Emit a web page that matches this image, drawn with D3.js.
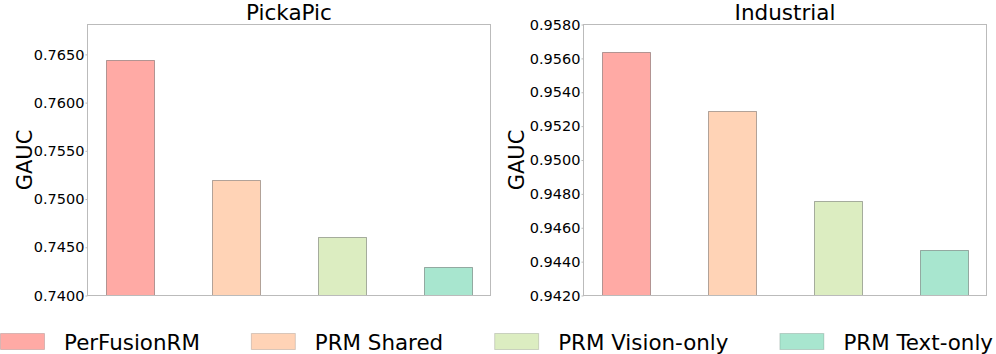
<!DOCTYPE html>
<html>
<head>
<meta charset="utf-8">
<script src="https://cdn.jsdelivr.net/npm/d3@7"></script>
<style>
  html, body { margin: 0; padding: 0; background: #fff; }
  svg { display: block; font-family: "DejaVu Sans", sans-serif; }
</style>
</head>
<body>
<svg id="chart" width="996" height="354"></svg>
<script>
const categories = ["PerFusionRM", "PRM Shared", "PRM Vision-only", "PRM Text-only"];
const colors = ["#ffaaa5", "#ffd3b6", "#dcedc1", "#a8e6cf"];
const pickapicValues = [0.7644, 0.7520, 0.7461, 0.7430];
const industrialValues = [0.9564, 0.9529, 0.9476, 0.9447];
const pickapicTicks = [0.7400, 0.7450, 0.7500, 0.7550, 0.7600, 0.7650];
const industrialTicks = [0.9420, 0.9440, 0.9460, 0.9480, 0.9500, 0.9520, 0.9540, 0.9560, 0.9580];
const panels = [
  { title: "PickaPic", values: pickapicValues, ticks: pickapicTicks, domain: [0.7400, 0.7681], left: 87.5, right: 490.5, labelOff: 56 },
  { title: "Industrial", values: industrialValues, ticks: industrialTicks, domain: [0.9420, 0.9580], left: 583.5, right: 986.5, labelOff: 60 }
];

const svg = d3.select("#chart");
const plotTop = 24.5, plotBottom = 295.5;

panels.forEach(p => {
  const g = svg.append("g");
  const x = d3.scaleLinear().domain([-0.4, 3.4]).range([p.left, p.right]);
  const y = d3.scaleLinear().domain(p.domain).range([plotBottom, plotTop]);
  const bw = 0.45;

  g.selectAll("rect.bar").data(p.values).enter().append("rect")
    .attr("class", "bar")
    .attr("x", (d, i) => Math.round(x(i - bw / 2)) + 0.5)
    .attr("width", (d, i) => Math.round(x(i + bw / 2)) - Math.round(x(i - bw / 2)))
    .attr("y", d => Math.round(y(d)) + 0.5)
    .attr("height", d => plotBottom - (Math.round(y(d)) + 0.5))
    .attr("fill", (d, i) => colors[i])
    .attr("stroke", "rgba(0,0,0,0.3)")
    .attr("stroke-width", 1);

  g.append("rect")
    .attr("x", p.left).attr("y", plotTop)
    .attr("width", p.right - p.left).attr("height", plotBottom - plotTop)
    .attr("fill", "none").attr("stroke", "#bbbbbb").attr("stroke-width", 1);

  const axis = d3.axisLeft(y).tickValues(p.ticks).tickFormat(d3.format(".4f"))
    .tickSize(2).tickPadding(1);
  const ax = g.append("g").attr("transform", `translate(${p.left},0)`).call(axis);
  ax.select(".domain").remove();
  ax.selectAll(".tick line").attr("stroke", "#bbbbbb");
  ax.selectAll(".tick text").attr("font-size", "14.5px").attr("fill", "#000")
    .attr("font-family", "DejaVu Sans, sans-serif");

  g.append("text")
    .attr("x", (p.left + p.right) / 2).attr("y", 20)
    .attr("text-anchor", "middle").attr("font-size", "21.5px").attr("fill", "#000")
    .text(p.title);

  g.append("text")
    .attr("transform", `translate(${p.left - p.labelOff},${(plotTop + plotBottom) / 2}) rotate(-90)`)
    .attr("text-anchor", "middle").attr("font-size", "21px").attr("fill", "#000")
    .text("GAUC");
});

const leg = svg.append("g");
let cx = 0;
categories.forEach((c, i) => {
  leg.append("rect")
    .attr("x", cx + 0.5).attr("y", 333.5).attr("width", 44).attr("height", 16)
    .attr("fill", colors[i]).attr("stroke", "rgba(0,0,0,0.15)");
  const t = leg.append("text")
    .attr("x", cx + 64).attr("y", 350)
    .attr("font-size", "21.4px").attr("fill", "#000")
    .text(c);
  const w = t.node().getComputedTextLength();
  cx = cx + 64 + w + 51;
});
</script>
</body>
</html>
